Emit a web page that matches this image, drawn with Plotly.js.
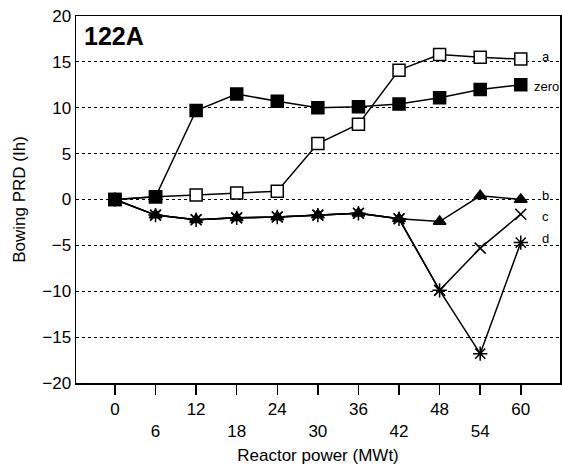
<!DOCTYPE html>
<html>
<head>
<meta charset="utf-8">
<script src="https://cdn.plot.ly/plotly-3.0.1.min.js"></script>
<style>html,body{margin:0;padding:0;background:#fff;}#chart{width:562px;height:466px;}</style>
</head>
<body>
<div id="chart"></div>
<script>
var power = [0, 6, 12, 18, 24, 30, 36, 42, 48, 54, 60];
var zeroSeries = [0, 0.3, 9.7, 11.5, 10.7, 10.0, 10.1, 10.4, 11.1, 12.0, 12.5];
var aSeries = [0, 0.3, 0.5, 0.7, 0.9, 6.1, 8.2, 14.1, 15.8, 15.5, 15.3];
var bSeries = [0, -1.7, -2.2, -2.0, -1.9, -1.7, -1.5, -2.1, -2.4, 0.4, 0.0];
var cSeries = [0, -1.7, -2.2, -2.0, -1.9, -1.7, -1.5, -2.1, -9.9, -5.3, -1.6];
var dSeries = [0, -1.7, -2.2, -2.0, -1.9, -1.7, -1.5, -2.1, -9.9, -16.8, -4.7];
var xTickVals = [0, 6, 12, 18, 24, 30, 36, 42, 48, 54, 60];
var xTickText = ["0", "<br>6", "12", "<br>18", "24", "<br>30", "36", "<br>42", "48", "<br>54", "60"];
var yTickVals = [-20, -15, -10, -5, 0, 5, 10, 15, 20];
var seriesLabels = ["a", "zero", "b", "c", "d"];
var labelY = [15.6, 12.3, 0.4, -1.9, -4.3];
var labelX = [62.8, 61.6, 62.8, 62.8, 62.8];

function tr(y, sym, size, name, fill) {
  return {x: power, y: y, type: "scatter", mode: "lines+markers", name: name,
    line: {color: "#000", width: 1.5},
    marker: {symbol: sym, size: size, color: fill, line: {color: "#000", width: 1.5}}};
}
var data = [
  tr(dSeries, "asterisk-open", 12, "d", "#000"),
  tr(cSeries, "x-thin-open", 11, "c", "#000"),
  tr(bSeries, "triangle-up", 11, "b", "#000"),
  tr(aSeries, "square", 12, "a", "#fff"),
  tr(zeroSeries, "square", 12, "zero", "#000")
];

var annotations = seriesLabels.map(function(t, i) {
  return {x: labelX[i], y: labelY[i], text: t, showarrow: false, xanchor: "left", yanchor: "middle",
    font: {family: "Liberation Sans, Arial, sans-serif", size: 13, color: "#000"}};
});
annotations.push({xref: "paper", yref: "paper", x: 0.013, y: 0.99, xanchor: "left", yanchor: "top",
  text: "<b>122A</b>", showarrow: false,
  font: {family: "Liberation Sans, Arial, sans-serif", size: 25, color: "#000"}});

var layout = {
  width: 562, height: 466,
  margin: {l: 76, r: 2, t: 16, b: 83},
  paper_bgcolor: "#fff", plot_bgcolor: "#fff",
  showlegend: false,
  font: {family: "Liberation Sans, Arial, sans-serif", size: 17, color: "#000"},
  xaxis: {
    range: [-5.76, 65.8], tickvals: xTickVals, ticktext: xTickText,
    ticks: "outside", ticklen: 10, tickwidth: 1.5, tickcolor: "#000",
    showgrid: false, zeroline: false,
    showline: true, linecolor: "#000", linewidth: 1.5, mirror: true,
    title: {text: "Reactor power (MWt)", standoff: 9, font: {size: 17}},
    tickfont: {size: 17}
  },
  yaxis: {
    range: [-20, 20], tickvals: yTickVals,
    ticks: "", showgrid: true, gridcolor: "#000", gridwidth: 1, griddash: "dot",
    zeroline: false, showline: true, linecolor: "#000", linewidth: 1.5, mirror: true,
    title: {text: "Bowing PRD (Ih)", standoff: 12, font: {size: 17}},
    tickfont: {size: 17}
  },
  annotations: annotations
};
Plotly.newPlot("chart", data, layout, {staticPlot: true, displayModeBar: false});
</script>
</body>
</html>
